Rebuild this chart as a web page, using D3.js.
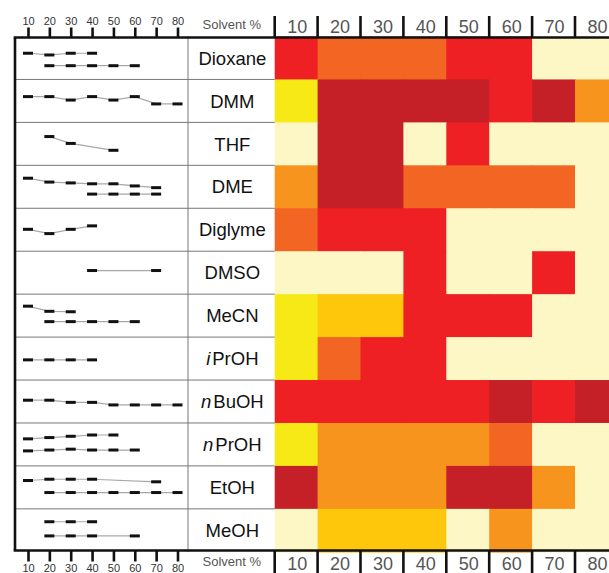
<!DOCTYPE html>
<html>
<head>
<meta charset="utf-8">
<script src="https://cdn.jsdelivr.net/npm/d3@7"></script>
<style>
  body { margin: 0; background: #fff; }
  svg { display: block; font-family: "Liberation Sans", Arial, Helvetica, sans-serif; }
</style>
</head>
<body>
<svg id="chart" width="609" height="573"></svg>
<script>
/* solvents (rows) and solvent percentages (columns) */
var solvents = ["Dioxane","DMM","THF","DME","Diglyme","DMSO","MeCN","iPrOH","nBuOH","nPrOH","EtOH","MeOH"];
var italicPrefix = {"iPrOH":"i", "nBuOH":"n", "nPrOH":"n"};
var percents = [10,20,30,40,50,60,70,80];

/* heat levels: 0 none .. 6 highest */
var heatLevels = [
  [5,4,4,4,5,5,0,0],
  [1,6,6,6,6,5,6,3],
  [0,6,6,0,5,0,0,0],
  [3,6,6,4,4,4,4,0],
  [4,5,5,5,0,0,0,0],
  [0,0,0,5,0,0,5,0],
  [1,2,2,5,5,5,0,0],
  [1,4,5,5,0,0,0,0],
  [5,5,5,5,5,6,5,6],
  [1,3,3,3,3,4,0,0],
  [6,3,3,3,6,6,3,0],
  [0,2,2,2,0,3,0,0]
];
var heatColors = ["#fcf7c5","#f6e916","#ffc70b","#f7941d","#f26522","#ee2024","#c52027"];

/* mini profiles in the left panel: [solvent %, level 0-100] */
var miniA = [
  [[10,61],[20,57],[30,61],[40,61]],
  [[10,60],[20,60],[30,52],[40,60],[50,52],[60,60],[70,43],[80,43]],
  [[20,67],[30,51],[50,35]],
  [[10,70],[20,61],[30,59],[40,57],[50,57],[60,52],[70,48]],
  [[10,51],[20,41],[30,51],[40,59]],
  [[40,55],[70,55]],
  [[10,72],[20,60],[30,59]],
  [[10,47],[20,47],[30,47],[40,47]],
  [[10,53],[20,53],[30,48],[40,48],[50,42],[60,42],[70,42],[80,42]],
  [[10,63],[20,66],[30,69],[40,72],[50,72]],
  [[10,66],[20,69],[30,69],[40,69],[70,63]],
  [[20,70],[30,70],[40,70]]
];
var miniB = [
  [[20,32],[30,32],[40,32],[50,32],[60,32]],
  null,
  null,
  [[40,33],[50,33],[60,33],[70,33]],
  null,
  null,
  [[20,36],[30,36],[40,36],[50,36],[60,36]],
  null,
  null,
  [[10,35],[20,37],[30,39],[40,37],[50,37],[60,37]],
  [[20,38],[30,38],[40,38],[50,38],[60,38],[70,38],[80,38]],
  [[20,37],[30,37],[40,37],[60,37]]
];

var svg = d3.select("#chart");

var top0 = 36.5, bottom0 = 551.8;
var frameLeft = 15, labelLeft = 188, heatLeft = 274.7, colW = 42.9;

var rowY = d3.scaleBand().domain(d3.range(solvents.length)).range([top0, bottom0]);
var colX = d3.scaleBand().domain(percents).range([heatLeft, heatLeft + colW*percents.length]);
var miniX = d3.scaleLinear().domain([10,80]).range([28,177.5]);
var miniY = d3.scaleLinear().domain([0,100]).range([rowY.bandwidth(), 0]);
var color = d3.scaleOrdinal().domain(d3.range(heatColors.length)).range(heatColors);

/* heatmap cells */
var rows = svg.append("g").selectAll("g").data(heatLevels).enter().append("g")
  .attr("transform", function(d,i){ return "translate(0," + rowY(i) + ")"; });
rows.selectAll("rect").data(function(d){ return d; }).enter().append("rect")
  .attr("x", function(d,j){ return colX(percents[j]); })
  .attr("y", 0)
  .attr("width", colX.bandwidth() + 0.8)
  .attr("height", rowY.bandwidth() + 0.8)
  .attr("fill", function(d){ return color(d); });

/* row separators for left panel + label column */
svg.append("g").selectAll("line").data(d3.range(1, solvents.length)).enter().append("line")
  .attr("x1", frameLeft).attr("x2", heatLeft)
  .attr("y1", function(i){ return rowY(i); }).attr("y2", function(i){ return rowY(i); })
  .attr("stroke", "#777").attr("stroke-width", 1);

svg.append("line")
  .attr("x1", labelLeft).attr("x2", labelLeft).attr("y1", top0).attr("y2", bottom0)
  .attr("stroke", "#777").attr("stroke-width", 1);

/* solvent labels */
var labels = svg.append("g").selectAll("text").data(solvents).enter().append("text")
  .attr("x", (labelLeft + heatLeft)/2 + 1)
  .attr("y", function(d,i){ return rowY(i) + rowY.bandwidth()/2; })
  .attr("dy", "0.36em")
  .attr("text-anchor", "middle")
  .style("font-size", "18.5px")
  .attr("fill", "#111");
labels.each(function(d) {
  var t = d3.select(this), p = italicPrefix[d];
  if (p) {
    t.append("tspan").style("font-style", "italic").text(p);
    t.append("tspan").attr("dx", 2).text(d.slice(p.length));
  } else t.text(d);
});

/* mini profiles */
var mini = svg.append("g").selectAll("g").data(solvents).enter().append("g")
  .attr("transform", function(d,i){ return "translate(0," + rowY(i) + ")"; });
var line = d3.line().x(function(d){ return miniX(d[0]); }).y(function(d){ return miniY(d[1]); });
mini.each(function(d,i) {
  var g = d3.select(this);
  [miniA[i], miniB[i]].forEach(function(s) {
    if (!s) return;
    g.append("path").attr("d", line(s)).attr("fill", "none")
      .attr("stroke", "#a8a8a8").attr("stroke-width", 1.2);
    g.selectAll(null).data(s).enter().append("rect")
      .attr("x", function(p){ return miniX(p[0]) - 5; })
      .attr("y", function(p){ return miniY(p[1]) - 1.5; })
      .attr("width", 10).attr("height", 3)
      .attr("fill", "#111");
  });
});

/* left mini axes */
var miniTop = svg.append("g").attr("transform", "translate(0,37.5)")
  .call(d3.axisTop(miniX).tickValues(percents).tickSize(10).tickPadding(3));
var miniBottom = svg.append("g").attr("transform", "translate(0,550.5)")
  .call(d3.axisBottom(miniX).tickValues(percents).tickSize(11).tickPadding(3));
[miniTop, miniBottom].forEach(function(a) {
  a.select(".domain").remove();
  a.selectAll(".tick line").attr("stroke", "#111").attr("stroke-width", 2.6);
  a.selectAll(".tick text").attr("fill", "#333")
    .style("font-size", "11px").style("font-family", "'Liberation Sans', Arial, sans-serif");
});

/* heatmap axes: tick marks at column edges, labels centred */
var edges = percents.concat([90]);
function edgeX(p) { return p == 90 ? colX(80) + colX.bandwidth() : colX(p); }
svg.append("g").selectAll("line").data(edges).enter().append("line")
  .attr("x1", edgeX).attr("x2", edgeX).attr("y1", 16).attr("y2", 37.5)
  .attr("stroke", "#111").attr("stroke-width", 2.6);
svg.append("g").selectAll("line").data(edges).enter().append("line")
  .attr("x1", edgeX).attr("x2", edgeX).attr("y1", 550.5).attr("y2", 573)
  .attr("stroke", "#111").attr("stroke-width", 2.6);
[33, 570].forEach(function(yb) {
  svg.append("g").selectAll("text").data(percents).enter().append("text")
    .attr("x", function(p){ return colX(p) + colX.bandwidth()/2 + 1; })
    .attr("y", yb)
    .attr("text-anchor", "middle")
    .style("font-size", "18px")
    .attr("fill", "#555")
    .text(function(p){ return p; });
  svg.append("text")
    .attr("x", (labelLeft + heatLeft)/2 + 0.5).attr("y", yb - 4)
    .attr("text-anchor", "middle")
    .style("font-size", "13px")
    .attr("fill", "#555")
    .text("Solvent %");
});

/* frame */
svg.append("line").attr("x1", frameLeft - 1.3).attr("x2", 609).attr("y1", 37.5).attr("y2", 37.5)
  .attr("stroke", "#111").attr("stroke-width", 2.6);
svg.append("line").attr("x1", frameLeft - 1.3).attr("x2", 609).attr("y1", 550.5).attr("y2", 550.5)
  .attr("stroke", "#111").attr("stroke-width", 2.6);
svg.append("line").attr("x1", frameLeft).attr("x2", frameLeft).attr("y1", 37.5).attr("y2", 550.5)
  .attr("stroke", "#111").attr("stroke-width", 2.6);
</script>
</body>
</html>
